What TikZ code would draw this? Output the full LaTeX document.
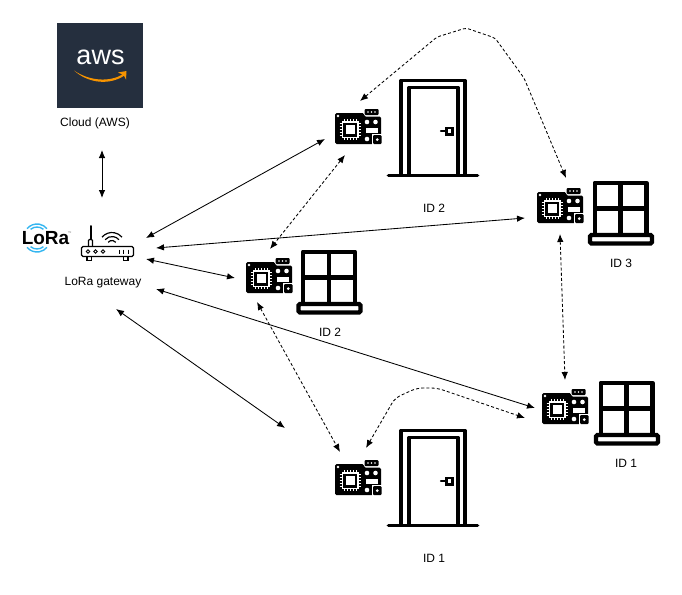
\documentclass[tikz,border=0pt]{standalone}
\usepackage{fontspec}
\setmainfont{Liberation Sans}
\usetikzlibrary{arrows.meta}
\definecolor{ink}{HTML}{000000}
\definecolor{awsnavy}{HTML}{252F3E}
\definecolor{awsorange}{HTML}{F79400}
\definecolor{lorablue}{HTML}{35B6F0}
\tikzset{
  every node/.style={font=\fontsize{12}{14}\selectfont,text=ink},
  link/.style={<->,ink,line width=.85pt},
  radiolink/.style={<->,ink,line width=.85pt,dash pattern=on 3pt off 2.2pt},
  outline/.style={ink,line width=3.7pt},
  thickoutline/.style={ink,line width=4.4pt},
  board/.pic={
    \fill[ink,rounded corners=1.5pt] (0,4)--(29,4)--(29,7.5)--(46,7.5)--(46,35)--(0,35)--cycle;
    \fill[ink,rounded corners=1pt] (29.5,0) rectangle (43.5,6);
    \foreach \t in {33,36.5,40}{
      \fill[white] (\t,3) circle (.9);
    }
    \fill[white] (3,7) circle (1.4);
    \fill[white] (6.5,12) rectangle (23.5,29);
    \fill[ink] (8,13.5) rectangle (22,27.5);
    \fill[white] (10.5,16) rectangle (19.5,25);
    \foreach \t in {9,12,15,18,21}{
      \draw[white,line width=.9pt] (\t,10)--(\t,12.5);
      \draw[white,line width=.9pt] (\t,28.5)--(\t,31);
      \draw[white,line width=.9pt] (4.5,{\t+5.5})--(7,{\t+5.5});
      \draw[white,line width=.9pt] (23,{\t+5.5})--(25.5,{\t+5.5});
    }
    \fill[white] (32,13) circle (2.3) (40.5,13) circle (2.3) (32,30) circle (2.3);
    \fill[white] (30.5,19) rectangle (43,23.5);
    \fill[white] (36.5,25) rectangle (46.5,36);
    \fill[ink,rounded corners=1pt] (38,26.2) rectangle (46.5,35);
    \fill[white] (42.3,30.6) circle (1.5);
  },
  doorway/.pic={
    \draw[outline,line join=round] (2,96)--(2,1.5)--(66,1.5)--(66,96);
    \draw[outline,line join=round] (10,96)--(10,8.5)--(59,8.5)--(59,96);
    \draw[outline,line cap=round] (-10.5,96.5)--(78.5,96.5);
    \fill[ink] (46,47.5) rectangle (54.5,56.5);
    \fill[white] (48.7,50.2) rectangle (51.8,53.8);
    \draw[ink,line width=2.2pt,line cap=round] (42,52)--(46,52);
  },
  casement/.pic={
    \draw[thickoutline,line join=round] (2.2,52)--(2.2,2.2)--(54,2.2)--(54,52);
    \draw[thickoutline] (28,2.2)--(28,52) (2.2,28)--(54,28);
    \draw[thickoutline,rounded corners=1.5pt] (-2.5,54.5) rectangle (59.5,63);
  }
}
\begin{document}
\begin{tikzpicture}[x=1pt,y=-1pt,>={Latex[length=8pt,width=6.5pt]}]
  \useasboundingbox (0,0) rectangle (682,594);
  % cloud
  \fill[awsnavy] (57,23) rectangle (143,108);
  \node[font=\fontsize{27}{27}\selectfont,text=white,inner sep=0pt] (awslogo) at (100.5,57) {aws};
  \fill[awsorange] (74,70.5) .. controls (90,81.5) and (110,82) .. (122.5,74.5)
    -- (118,72.5) -- (126.5,71) -- (126,79.5) -- (124,75.8)
    .. controls (110,85) and (89,84) .. cycle;
  \node (cloud) at (95,123) {Cloud (AWS)};
  % gateway
  \foreach \r/\s in {13/-140,10/-130}{
    \draw[lorablue,line width=1.4pt] (37,237) ++(\s:\r) arc[start angle=\s,end angle=-180-\s,radius=\r];
    \draw[lorablue,line width=1.4pt] (37,239) ++(-\s:\r) arc[start angle=-\s,end angle=180+\s,radius=\r];
  }
  \node[font=\fontsize{19}{19}\selectfont\bfseries,inner sep=0pt] (loralogo) at (45.5,238) {LoRa};
  \node[font=\fontsize{4}{4}\selectfont,text=ink!50,inner sep=0pt] (loratm) at (69.5,233) {™};
  \draw[ink,line width=1.3pt,rounded corners=1.5pt] (81.5,246.5) rectangle (133.5,256.5);
  \draw[ink,line width=1.3pt] (87,257)--(87,260.5)--(91.5,260.5)--(91.5,257) (123.5,257)--(123.5,260.5)--(128,260.5)--(128,257);
  \draw[ink,line width=1.3pt,line join=round,rounded corners=1pt] (88.5,246)--(88.5,239.5)--(92.5,239.5)--(92.5,246);
  \draw[ink,line width=2pt,line cap=round] (90.5,239)--(90.5,226);
  \foreach \r in {5,9,13}{
    \draw[ink,line width=1.2pt] (112,245.5) ++(-140:\r) arc[start angle=-140,end angle=-40,radius=\r];
  }
  \foreach \x in {88,95.5,103}{
    \draw[ink,line width=.9pt] (\x,251.5) circle (1.8);
  }
  \foreach \x in {119,123.5,128}{
    \draw[ink,line width=1pt] (\x,249.5)--(\x,253.5);
  }
  \node (gateway) at (103,283) {LoRa gateway};
  % devices
  \foreach \n/\x/\y in {A/335/109,B/246/258,C/537/188,D/542/389,E/335/460}{
    \pic (board\n) at (\x,\y) {board};
  }
  \pic (doorA) at (399,79) {doorway};
  \pic (doorE) at (399,429) {doorway};
  \pic (windowB) at (301,249.5) {casement};
  \pic (windowC) at (592.5,180.5) {casement};
  \pic (windowD) at (598.5,380.5) {casement};
  \node (idA) at (434,208) {ID 2};
  \node (idB) at (330,332) {ID 2};
  \node (idC) at (621,263) {ID 3};
  \node (idD) at (626,463) {ID 1};
  \node (idE) at (434,558) {ID 1};
  % ends of the links
  \coordinate (cloudS) at (102,150);
  \coordinate (gwN) at (102,198);
  \coordinate (gwA) at (146,238);
  \coordinate (gwC) at (156,248);
  \coordinate (gwB) at (146,259);
  \coordinate (gwD) at (156,289);
  \coordinate (gwE) at (116,309);
  \coordinate (inA) at (325,139);
  \coordinate (inB) at (235,278);
  \coordinate (inC) at (525,218);
  \coordinate (inD) at (535,408);
  \coordinate (inE) at (285,428);
  \coordinate (meshAB) at (345,155);
  \coordinate (meshBA) at (270,249);
  \coordinate (meshBE) at (257,302);
  \coordinate (meshEB) at (340,452);
  \coordinate (meshAC) at (360,101);
  \coordinate (meshCA) at (566,178);
  \coordinate (meshCD) at (560,234);
  \coordinate (meshDC) at (565,380);
  \coordinate (meshED) at (366,448);
  \coordinate (meshDE) at (525,418);
  \draw[link] (cloudS)--(gwN);
  \draw[link] (gwA)--(inA);
  \draw[link] (gwC)--(inC);
  \draw[link] (gwB)--(inB);
  \draw[link] (gwD)--(inD);
  \draw[link] (gwE)--(inE);
  \draw[radiolink] (meshAB)--(meshBA);
  \draw[radiolink] (meshBE)--(meshEB);
  \draw[radiolink] (meshCD)--(meshDC);
  \draw[radiolink,rounded corners=3pt] (meshAC)--(437,37)--(466,28)--(495,38)--(524,78)--(meshCA);
  \draw[radiolink,rounded corners=6pt] (meshED)--(395,398)--(417,388)--(437,388)--(meshDE);
\end{tikzpicture}
\end{document}
